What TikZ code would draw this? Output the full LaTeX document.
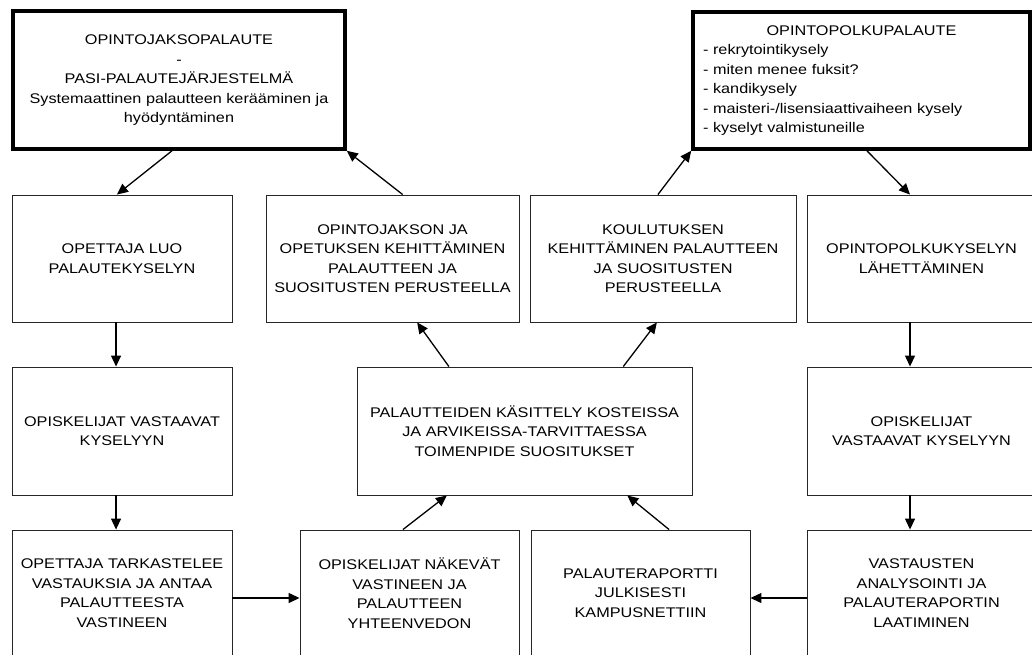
\documentclass[tikz,border=0pt]{standalone}
\usepackage{fontspec}
\setmainfont[FakeStretch=1.16]{Liberation Sans}
\usetikzlibrary{arrows.meta,calc}

\tikzset{
  stepbox/.style={draw=black!85, line width=0.9pt, inner sep=0pt, align=center,
    font=\fontsize{14}{19.5}\selectfont},
  headbox/.style={stepbox, draw=black, line width=3.6pt},
  arr/.style={line width=1.3pt, -{Triangle[length=11pt,width=10pt]}},
}

\begin{document}
\begin{tikzpicture}[x=1pt,y=-1pt]
\useasboundingbox (0,0) rectangle (1032,655);

% feedback sources
\node[headbox, minimum width=332pt, minimum height=138pt] (tl) at (179,80)
  {\raisebox{-3.5pt}{\begin{tabular}{@{}c@{}}OPINTOJAKSOPALAUTE\\-\\PASI-PALAUTEJÄRJESTELMÄ\\Systemaattinen palautteen kerääminen ja\\hyödyntäminen\end{tabular}}};
\node[headbox, minimum width=337pt, minimum height=137pt, align=left,
      inner xsep=10pt, text width=317pt] (tr) at (861.5,80.5)
  {{\centering OPINTOPOLKUPALAUTE\par}\raggedright
   - rekrytointikysely\par
   - miten menee fuksit?\par
   - kandikysely\par
   - maisteri-/lisensiaattivaiheen kysely\par
   - kyselyt valmistuneille};

% second row
\node[stepbox, minimum width=220pt, minimum height=127pt] (r2a) at (122,258.5)
  {OPETTAJA LUO\\PALAUTEKYSELYN};
\node[stepbox, minimum width=253pt, minimum height=127pt] (r2b) at (392.5,258.5)
  {OPINTOJAKSON JA\\OPETUKSEN KEHITTÄMINEN\\PALAUTTEEN JA\\SUOSITUSTEN PERUSTEELLA};
\node[stepbox, minimum width=266pt, minimum height=127pt] (r2c) at (663,258.5)
  {KOULUTUKSEN\\KEHITTÄMINEN PALAUTTEEN\\JA SUOSITUSTEN\\PERUSTEELLA};
\node[stepbox, minimum width=229pt, minimum height=127pt] (r2d) at (921.5,258.5)
  {OPINTOPOLKUKYSELYN\\LÄHETTÄMINEN};

% third row
\node[stepbox, minimum width=220pt, minimum height=128pt] (r3a) at (122,431)
  {OPISKELIJAT VASTAAVAT\\KYSELYYN};
\node[stepbox, minimum width=335pt, minimum height=128pt] (c) at (524.5,431)
  {PALAUTTEIDEN KÄSITTELY KOSTEISSA\\JA ARVIKEISSA-TARVITTAESSA\\TOIMENPIDE SUOSITUKSET};
\node[stepbox, minimum width=229pt, minimum height=128pt] (r3d) at (921.5,431)
  {OPISKELIJAT\\VASTAAVAT KYSELYYN};

% fourth row
\node[stepbox, minimum width=220pt, minimum height=126pt] (r4a) at (122,593)
  {OPETTAJA TARKASTELEE\\VASTAUKSIA JA ANTAA\\PALAUTTEESTA\\VASTINEEN};
\node[stepbox, minimum width=219pt, minimum height=126pt] (r4b) at (409.5,593)
  {OPISKELIJAT NÄKEVÄT\\VASTINEEN JA\\PALAUTTEEN\\YHTEENVEDON};
\node[stepbox, minimum width=219pt, minimum height=126pt] (r4c) at (640.5,593)
  {PALAUTERAPORTTI\\JULKISESTI\\KAMPUSNETTIIN};
\node[stepbox, minimum width=229pt, minimum height=126pt] (r4d) at (921.5,593)
  {VASTAUSTEN\\ANALYSOINTI JA\\PALAUTERAPORTIN\\LAATIMINEN};

% course feedback loop
\draw[arr] ($(tl.south west)!0.479!(tl.south east)$) -- ($(r2a.north west)!0.477!(r2a.north east)$);
\draw[arr] ($(r2a.south west)!0.473!(r2a.south east)$) coordinate (p1) -- (p1 |- r3a.north);
\draw[arr] ($(r3a.south west)!0.473!(r3a.south east)$) coordinate (p2) -- (p2 |- r4a.north);
\draw[arr] ([yshift=-5pt]r4a.east) -- ([yshift=-5pt]r4b.west);
\draw[arr] ($(r4b.north west)!0.47!(r4b.north east)$) -- ($(c.south west)!0.269!(c.south east)$);
\draw[arr] ($(c.north west)!0.275!(c.north east)$) -- ($(r2b.south west)!0.597!(r2b.south east)$);
\draw[arr] ($(r2b.north west)!0.54!(r2b.north east)$) -- (tl.south east);

% study path feedback loop
\draw[arr] ($(tr.south west)!0.516!(tr.south east)$) -- ($(r2d.north west)!0.45!(r2d.north east)$);
\draw[arr] ($(r2d.south west)!0.45!(r2d.south east)$) coordinate (q1) -- (q1 |- r3d.north);
\draw[arr] ($(r3d.south west)!0.45!(r3d.south east)$) coordinate (q2) -- (q2 |- r4d.north);
\draw[arr] ([yshift=-5pt]r4d.west) -- ([yshift=-5pt]r4c.east);
\draw[arr] ($(r4c.north west)!0.63!(r4c.north east)$) -- ($(c.south west)!0.806!(c.south east)$);
\draw[arr] ($(c.north west)!0.794!(c.north east)$) -- ($(r2c.south west)!0.477!(r2c.south east)$);
\draw[arr] ($(r2c.north west)!0.481!(r2c.north east)$) -- (tr.south west);
\end{tikzpicture}
\end{document}
